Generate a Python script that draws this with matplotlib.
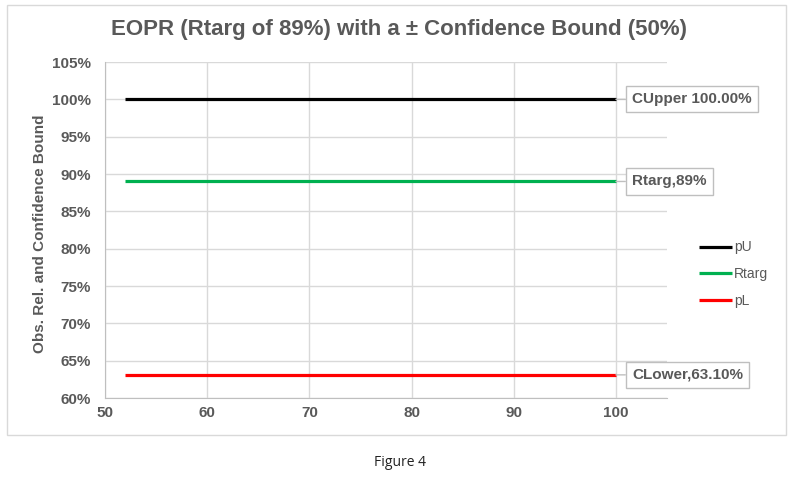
import matplotlib
matplotlib.use("Agg")
import matplotlib.pyplot as plt
from matplotlib.patches import Rectangle
from matplotlib.ticker import PercentFormatter

# Data
x_vals = [52, 100]
pU = [1.00, 1.00]
Rtarg = [0.89, 0.89]
pL = [0.631, 0.631]
series_names = ["pU", "Rtarg", "pL"]
series_colors = ["#000000", "#00B050", "#FF0000"]
label_texts = ["CUpper 100.00%", "Rtarg,89%", "CLower,63.10%"]
x_ticks = [50, 60, 70, 80, 90, 100]
y_ticks = [0.60, 0.65, 0.70, 0.75, 0.80, 0.85, 0.90, 0.95, 1.00, 1.05]

plt.rcParams['font.family'] = ['Liberation Sans', 'DejaVu Sans']
GREY = "#595959"

fig = plt.figure(figsize=(8, 4.82), dpi=100)
W, H = 800, 482
# chart border
fig.patches.append(Rectangle((7 / W, 1 - 435 / H), 779 / W, 430 / H,
                             transform=fig.transFigure, fill=False,
                             edgecolor="#d9d9d9", linewidth=1))

ax = fig.add_axes([105 / W, 1 - 398 / H, (667 - 105) / W, (398 - 62) / H])

for vals, name, col in zip([pU, Rtarg, pL], series_names, series_colors):
    ax.plot(x_vals, vals, color=col, linewidth=2.3, label=name,
            solid_capstyle='butt')

ax.set_xlim(50, 105)
ax.set_ylim(0.60, 1.05)
ax.set_xticks(x_ticks)
ax.set_yticks(y_ticks)
ax.yaxis.set_major_formatter(PercentFormatter(1.0, decimals=0))
ax.grid(True, color="#d9d9d9", linewidth=1)
ax.set_axisbelow(True)
for s in ["top", "right"]:
    ax.spines[s].set_visible(False)
for s in ["left", "bottom"]:
    ax.spines[s].set_color("#bfbfbf")
ax.tick_params(length=0, labelsize=11, colors=GREY)
ax.tick_params(axis='y', pad=10)
ax.tick_params(axis='x', pad=6)
for lbl in ax.get_xticklabels() + ax.get_yticklabels():
    lbl.set_fontweight('bold')

ax.set_ylabel("Obs. Rel. and Confidence Bound", fontsize=11,
              fontweight='bold', color=GREY, labelpad=6)
ax.yaxis.set_label_coords(-0.103, 0.49)

fig.text(399 / W, 1 - 30 / H, "EOPR (Rtarg of 89%) with a \u00b1 Confidence Bound (50%)",
         ha='center', va='center', fontsize=16, fontweight='bold', color=GREY)

# data labels
for vals, txt in zip([pU, Rtarg, pL], label_texts):
    ax.annotate(txt, xy=(x_vals[-1], vals[-1]), xytext=(16, 0),
                textcoords='offset pixels', ha='left', va='center',
                fontsize=11, fontweight='bold', color=GREY,
                bbox=dict(boxstyle='square,pad=0.4', fc='white', ec='#bfbfbf', lw=1),
                arrowprops=dict(arrowstyle='-', color='#bfbfbf', lw=1,
                                shrinkA=0, shrinkB=0))

leg = ax.legend(loc='center left', bbox_to_anchor=(699 / W, 1 - 274 / H),
                bbox_transform=fig.transFigure, frameon=False, fontsize=10,
                handlelength=2.4, handletextpad=0.1, labelspacing=0.9,
                borderpad=0, borderaxespad=0)
for t in leg.get_texts():
    t.set_color(GREY)

fig.text(400 / W, 1 - 463 / H, "Figure 4", ha='center', va='center',
         fontsize=10, color="#222222", family=['Open Sans', 'DejaVu Sans'])

fig.savefig("out.png", dpi=100)
